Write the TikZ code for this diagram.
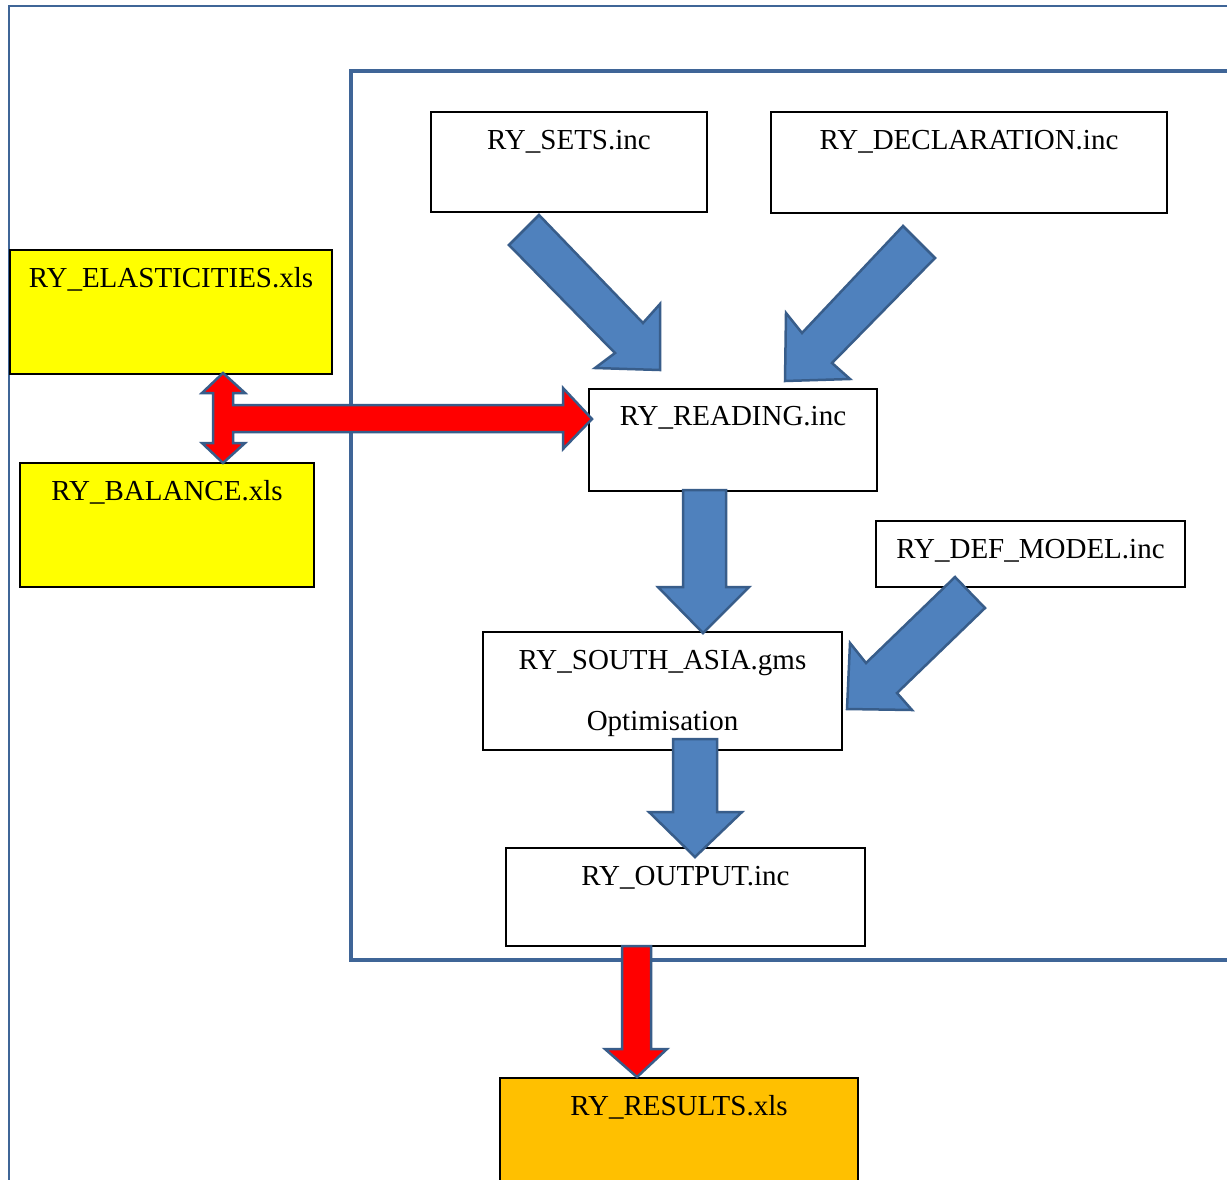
\documentclass[tikz,border=0pt]{standalone}
\usepackage{fontspec}
\setmainfont{Liberation Serif}
\usetikzlibrary{positioning}

\definecolor{frameblue}{HTML}{3F6597}
\definecolor{arrowfill}{HTML}{4F81BD}
\definecolor{arrowline}{HTML}{385D8A}
\definecolor{xlsyellow}{HTML}{FFFF00}
\definecolor{xlsorange}{HTML}{FFC000}

\begin{document}
\begin{tikzpicture}[
  x=1pt, y=-1pt,
  font=\fontsize{29}{35}\selectfont,
  box/.style={draw, fill=white, line width=2.8pt, inner sep=0pt, outer sep=0pt, anchor=north west, text height=37pt},
  xls/.style={box, fill=xlsyellow},
  res/.style={box, fill=xlsorange},
  blk/.style={fill=arrowfill, draw=arrowline, line width=2.5pt, line join=miter},
  redblk/.style={blk, fill=red},
  frame/.style={draw=frameblue}
]
\clip (0,0) rectangle (1227,1179);
\fill[white] (0,0) rectangle (1227,1179);

% frames
\draw[frame, line width=2pt] (1240,6) -- (8.5,6) -- (8.5,1190);
\draw[frame, line width=3.5pt] (1240,71) -- (351,71) -- (351,960) -- (1240,960);

% files
\node[box, minimum width=276pt, text depth=63pt] (sets) at (431,112) {RY\_SETS.inc};
\node[box, minimum width=396pt, text depth=64pt] (decl) at (771,112) {RY\_DECLARATION.inc};
\node[xls, minimum width=322pt, text depth=87pt] (elast) at (10,250) {RY\_ELASTICITIES.xls};
\node[xls, minimum width=294pt, text depth=87pt] (balance) at (20,463) {RY\_BALANCE.xls};
\node[box, minimum width=288pt, text height=36pt, text depth=66pt] (reading) at (589,389) {RY\_READING.inc};
\node[box, minimum width=309pt, text depth=29pt] (defmodel) at (876,521) {RY\_DEF\_MODEL.inc};
\node[box, minimum width=359pt, align=center, text height=98pt, text depth=20pt] (southasia) at (483,632)
  {RY\_SOUTH\_ASIA.gms\\[26pt]Optimisation};
\node[box, minimum width=359pt, text depth=61pt] (output) at (506,848) {RY\_OUTPUT.inc};
\node[res, minimum width=358pt, text depth=93pt] (results) at (500,1078) {RY\_RESULTS.xls};

% block arrows
% sets -> reading
\draw[blk] (509,245) -- (539,215) -- (643,323) -- (660,304) -- (660,370) -- (595,368) -- (615,353) -- cycle;
% decl -> reading
\draw[blk] (903,226) -- (935,258) -- (832,363) -- (850,379) -- (785,381) -- (786,313) -- (802,333) -- cycle;
% reading -> southasia
\draw[blk] (683,490) -- (726,490) -- (726,587) -- (749,587) -- (703,633) -- (658,587) -- (683,587) -- cycle;
% defmodel -> southasia
\draw[blk] (955,577) -- (985,608) -- (897,693) -- (912,710) -- (847,709) -- (850,643) -- (866,663) -- cycle;
% southasia -> output
\draw[blk] (673,739) -- (717,739) -- (717,812) -- (742,812) -- (695,857) -- (649,812) -- (673,812) -- cycle;
% output -> results
\draw[redblk] (622,946) -- (651,946) -- (651,1049) -- (667,1049) -- (637,1077) -- (605,1049) -- (622,1049) -- cycle;
% xls files -> reading
\draw[redblk] (223,373) -- (245,393) -- (233,393) -- (233,405) -- (563,405) -- (563,388) -- (592,419)
  -- (563,449) -- (563,432) -- (233,432) -- (233,443) -- (245,443) -- (223,463) -- (202,443)
  -- (213,443) -- (213,393) -- (202,393) -- cycle;
\end{tikzpicture}
\end{document}
